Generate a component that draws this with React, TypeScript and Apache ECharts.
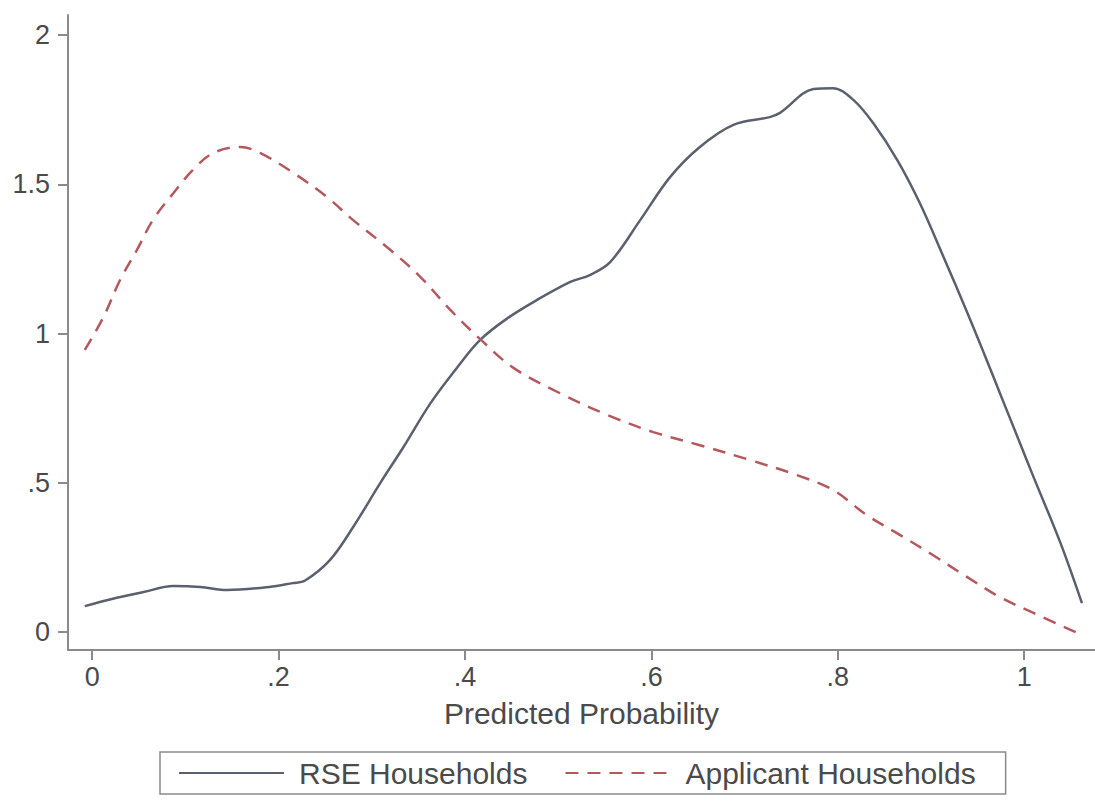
import React, { useEffect, useRef } from "react";
import * as echarts from "echarts";

const rseX = [-0.008, 0.02, 0.055, 0.087, 0.116, 0.145, 0.19, 0.215, 0.228, 0.255, 0.28, 0.309, 0.334, 0.363, 0.392, 0.416, 0.445, 0.477, 0.513, 0.534, 0.556, 0.588, 0.62, 0.652, 0.688, 0.727, 0.738, 0.774, 0.795, 0.817, 0.838, 0.864, 0.888, 0.913, 0.939, 0.958, 0.974, 0.992, 1.01, 1.039, 1.062];
const rseY = [0.087, 0.11, 0.134, 0.154, 0.151, 0.141, 0.151, 0.164, 0.172, 0.241, 0.352, 0.499, 0.62, 0.767, 0.888, 0.978, 1.05, 1.112, 1.173, 1.196, 1.24, 1.38, 1.524, 1.625, 1.699, 1.725, 1.739, 1.819, 1.822, 1.782, 1.705, 1.58, 1.437, 1.26, 1.07, 0.925, 0.8, 0.66, 0.52, 0.298, 0.097];

const appX = [-0.008, 0.012, 0.03, 0.048, 0.065, 0.087, 0.108, 0.13, 0.159, 0.18, 0.216, 0.252, 0.28, 0.32, 0.352, 0.384, 0.416, 0.452, 0.502, 0.553, 0.602, 0.652, 0.706, 0.756, 0.795, 0.831, 0.867, 0.902, 0.939, 0.974, 1.01, 1.057];
const appY = [0.945, 1.055, 1.18, 1.28, 1.38, 1.47, 1.548, 1.605, 1.625, 1.605, 1.538, 1.457, 1.38, 1.28, 1.19, 1.08, 0.982, 0.885, 0.8, 0.727, 0.67, 0.626, 0.576, 0.526, 0.476, 0.392, 0.325, 0.258, 0.184, 0.117, 0.064, -0.003];

const xTicks = [0, 0.2, 0.4, 0.6, 0.8, 1];
const xTickLabels = ["0", ".2", ".4", ".6", ".8", "1"];
const yTicks = [0, 0.5, 1, 1.5, 2];
const yTickLabels = ["0", ".5", "1", "1.5", "2"];

const seriesNames = ["RSE Households", "Applicant Households"];
const xTitle = "Predicted Probability";

const FONT = "'Liberation Sans', Arial, Helvetica, sans-serif";
const AXIS_COLOR = "#8a8a8a";
const TEXT_COLOR = "#4a4a4a";

export default function App() {
  const ref = useRef<HTMLDivElement>(null);

  useEffect(() => {
    if (!ref.current) return;
    const chart = echarts.init(ref.current, undefined, { renderer: "svg" });
    const rseData = rseX.map((x, i) => [x, rseY[i]]);
    const appData = appX.map((x, i) => [x, appY[i]]);
    const fmt = (ticks: number[], labels: string[]) => (v: number) => {
      const i = ticks.findIndex((t) => Math.abs(t - v) < 1e-6);
      return i >= 0 ? labels[i] : "";
    };
    chart.setOption({
      animation: false,
      backgroundColor: "#ffffff",
      grid: { left: 68, right: 0, top: 15, bottom: 161, containLabel: false },
      xAxis: {
        type: "value",
        min: -0.026,
        max: 1.076,
        name: xTitle,
        nameLocation: "middle",
        nameGap: 48,
        nameTextStyle: { fontFamily: FONT, fontSize: 30, color: TEXT_COLOR },
        splitLine: { show: false },
        axisLine: { show: true, onZero: false, lineStyle: { color: AXIS_COLOR, width: 2 } },
        axisTick: {
          show: true,
          length: 10,
          customValues: xTicks,
          lineStyle: { color: AXIS_COLOR, width: 2 },
        },
        axisLabel: {
          customValues: xTicks,
          formatter: fmt(xTicks, xTickLabels),
          margin: 13,
          fontFamily: FONT,
          fontSize: 27,
          color: TEXT_COLOR,
        },
      },
      yAxis: {
        type: "value",
        min: -0.06,
        max: 2.067,
        splitLine: { show: false },
        axisLine: { show: true, onZero: false, lineStyle: { color: AXIS_COLOR, width: 2 } },
        axisTick: {
          show: true,
          length: 10,
          customValues: yTicks,
          lineStyle: { color: AXIS_COLOR, width: 2 },
        },
        axisLabel: {
          customValues: yTicks,
          formatter: fmt(yTicks, yTickLabels),
          margin: 18,
          fontFamily: FONT,
          fontSize: 27,
          color: TEXT_COLOR,
        },
      },
      legend: {
        left: 160,
        top: 752,
        orient: "horizontal",
        data: seriesNames,
        itemWidth: 105,
        itemHeight: 20,
        itemGap: 37,
        padding: [6, 30, 6, 18],
        borderColor: "#8a8a8a",
        borderWidth: 1.5,
        backgroundColor: "#ffffff",
        itemStyle: { opacity: 0 },
        textStyle: {
          fontFamily: FONT,
          fontSize: 30,
          color: TEXT_COLOR,
          padding: [0, 0, 0, 10],
        },
      },
      series: [
        {
          name: seriesNames[0],
          type: "line",
          data: rseData,
          smooth: 0.35,
          symbol: "none",
          showSymbol: false,
          lineStyle: { color: "#5a606e", width: 2.5, type: "solid" },
          itemStyle: { color: "#5a606e" },
        },
        {
          name: seriesNames[1],
          type: "line",
          data: appData,
          smooth: 0.35,
          symbol: "none",
          showSymbol: false,
          lineStyle: { color: "#b5585d", width: 2.5, type: [13, 9] },
          itemStyle: { color: "#b5585d" },
        },
      ],
    });
    return () => chart.dispose();
  }, []);

  return (
    <div
      ref={ref}
      style={{ position: "fixed", left: 0, top: 0, width: 1095, height: 811, background: "#fff" }}
    />
  );
}
